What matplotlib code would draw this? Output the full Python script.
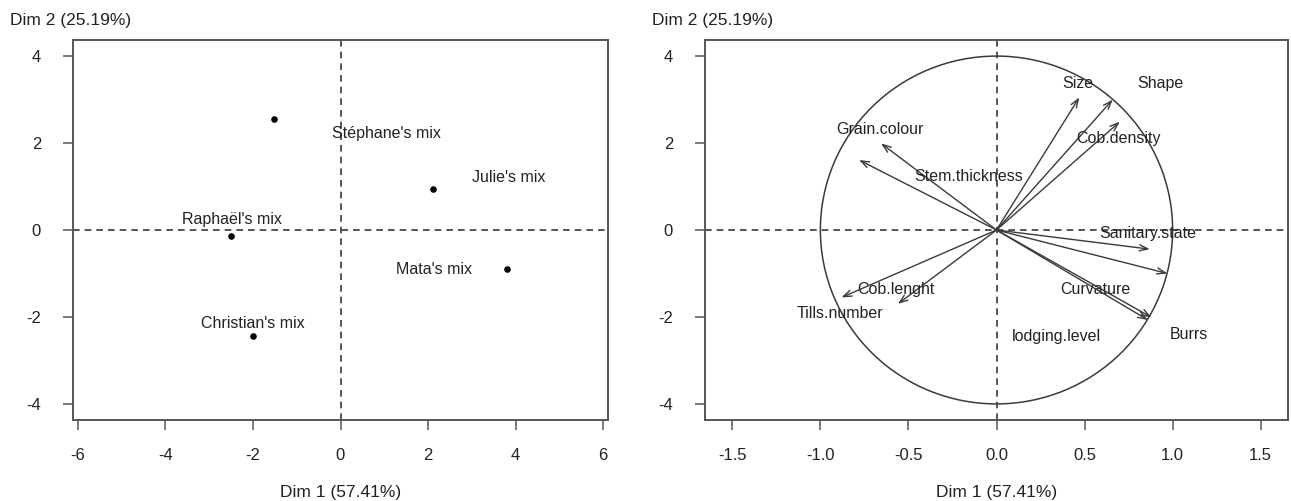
import matplotlib
matplotlib.use("Agg")
import matplotlib.pyplot as plt
from matplotlib.patches import Ellipse

plt.rcParams['font.family'] = ['Liberation Sans', 'DejaVu Sans']
plt.rcParams['axes.unicode_minus'] = False

# individuals map
ind_names = ["Stéphane's mix", "Julie's mix", "Raphaël's mix", "Mata's mix", "Christian's mix"]
ind_x = [-1.51, 2.12, -2.49, 3.81, -2.01]
ind_y = [2.55, 0.94, -0.14, -0.90, -2.44]
ind_lab_x = [1.04, 3.85, -2.48, 2.14, -2.00]
ind_lab_y = [2.23, 1.20, 0.25, -0.92, -2.14]

# variables map (y shown on the -4..4 scale of the original)
var_names = ["Size", "Shape", "Cob.density", "Grain.colour", "Stem.thickness",
             "Sanitary.state", "Curvature", "Burrs", "lodging.level",
             "Cob.lenght", "Tills.number"]
var_x = [0.47, 0.66, 0.70, -0.655, -0.78, 0.87, 0.97, 0.88, 0.86, -0.56, -0.88]
var_y = [3.05, 3.00, 2.49, 1.99, 1.61, -0.44, -1.00, -2.01, -2.07, -1.70, -1.55]
var_lab_x = [0.46, 0.93, 0.69, -0.66, -0.16, 0.86, 0.56, 1.09, 0.34, -0.57, -0.89]
var_lab_y = [3.36, 3.36, 2.11, 2.31, 1.23, -0.09, -1.38, -2.41, -2.44, -1.36, -1.93]

x_ticks_ind = [-6, -4, -2, 0, 2, 4, 6]
x_ticks_var = [-1.5, -1.0, -0.5, 0.0, 0.5, 1.0, 1.5]
y_ticks = [-4, -2, 0, 2, 4]
dim1 = "Dim 1 (57.41%)"
dim2 = "Dim 2 (25.19%)"

W, H = 1291, 501
fig = plt.figure(figsize=(W / 100, H / 100), dpi=100)
ax1 = fig.add_axes([73 / W, 1 - 420 / H, (608 - 73) / W, 380 / H])
ax2 = fig.add_axes([705 / W, 1 - 420 / H, (1288 - 705) / W, 380 / H])

txt_col = '#222222'
line_col = '#3a3a3a'


def style(ax):
    for s in ax.spines.values():
        s.set_color('#555555')
        s.set_linewidth(1.4)
    ax.tick_params(axis='both', length=7, width=1.1, color='#555555',
                   labelsize=12, labelcolor=txt_col)
    ax.tick_params(axis='x', pad=13)
    ax.tick_params(axis='y', pad=16)
    ax.axhline(0, color=line_col, lw=1.2, ls=(0, (4, 3)), zorder=1)
    ax.axvline(0, color=line_col, lw=1.2, ls=(0, (4, 3)), zorder=1)
    ax.set_yticks(y_ticks)
    ax.set_ylim(-4.37, 4.37)
    ax.set_xlabel(dim1, fontsize=12.5, color=txt_col)
    ax.xaxis.set_label_coords(0.5, -0.19)
    ax.xaxis.label.set_va('center')


# left panel
style(ax1)
ax1.set_xlim(-6.11, 6.11)
ax1.set_xticks(x_ticks_ind)
ax1.scatter(ind_x, ind_y, s=14, color='black', zorder=3)
for name, lx, ly in zip(ind_names, ind_lab_x, ind_lab_y):
    ax1.text(lx, ly, name, ha='center', va='center', fontsize=11.5, color=txt_col)

# right panel
style(ax2)
ax2.set_xlim(-1.655, 1.655)
ax2.set_xticks(x_ticks_var)
ax2.set_xticklabels([f"{v:.1f}" for v in x_ticks_var])
ax2.add_patch(Ellipse((0, 0), 2, 8, fill=False, edgecolor=line_col, lw=1.1))
for name, vx, vy, lx, ly in zip(var_names, var_x, var_y, var_lab_x, var_lab_y):
    ax2.annotate('', xy=(vx, vy), xytext=(0, 0),
                 arrowprops=dict(arrowstyle='->,head_length=0.6,head_width=0.22',
                                 color=line_col, lw=1.0, shrinkA=0, shrinkB=0))
    ax2.text(lx, ly, name, ha='center', va='center', fontsize=11.5, color=txt_col)

fig.text(10 / W, 1 - 20 / H, dim2, ha='left', va='center', fontsize=12.5, color=txt_col)
fig.text(652 / W, 1 - 20 / H, dim2, ha='left', va='center', fontsize=12.5, color=txt_col)

fig.savefig("out.png", dpi=100)
